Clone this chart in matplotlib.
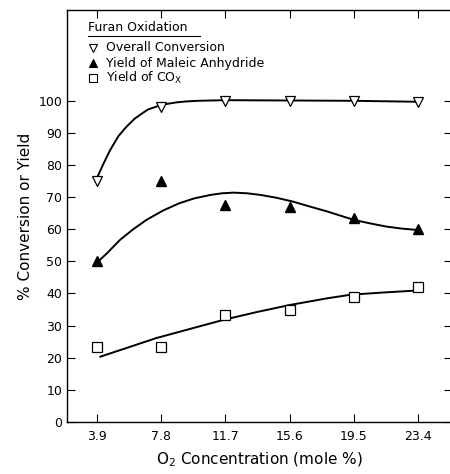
import matplotlib.pyplot as plt

# measured points
o2 = [3.9, 7.8, 11.7, 15.6, 19.5, 23.4]
overall = [75, 98, 100, 100, 100, 99.5]
maleic = [50, 75, 67.6, 66.9, 63.5, 60.1]
cox = [23.3, 23.3, 33.4, 34.9, 39, 42]

# hand drawn curves
overall_fit_x = [3.9, 4.3, 4.7, 5.2, 5.7, 6.2, 6.7, 7.0, 7.5, 8.0, 8.7, 9.3, 10.0, 11.7, 15.6, 19.5, 23.4]
overall_fit_y = [76, 80.5, 84.7, 89, 92, 94.5, 96.3, 97.3, 98.2, 98.9, 99.5, 99.8, 100, 100.2, 100.1, 100, 99.7]
maleic_fit_x = [3.9, 4.5, 5.3, 6.1, 6.9, 7.9, 8.9, 9.8, 10.8, 11.5, 12.2, 13.0, 13.8, 14.8,
                15.8, 16.8, 17.9, 18.7, 19.5, 20.5, 21.5, 22.4, 23.3]
maleic_fit_y = [49.6, 52.5, 56.7, 60.0, 62.9, 65.8, 68.1, 69.6, 70.7, 71.2, 71.4, 71.2, 70.7, 69.8,
                68.6, 67.1, 65.5, 64.2, 62.9, 61.8, 60.8, 60.2, 59.8]
cox_fit_x = [4.1, 7.5, 11.6, 13.6, 15.6, 17.9, 19.3, 21.3, 23.3]
cox_fit_y = [20.3, 26.1, 31.8, 34.2, 36.4, 38.5, 39.6, 40.3, 40.9]

plt.rcParams['font.family'] = 'DejaVu Sans'

fig = plt.figure(figsize=(4.5, 4.74), dpi=100)
ax = fig.add_axes([0.149, 0.110, 0.856, 0.869])

ax.plot(overall_fit_x, overall_fit_y, color='black', lw=1.4)
ax.plot(maleic_fit_x, maleic_fit_y, color='black', lw=1.4)
ax.plot(cox_fit_x, cox_fit_y, color='black', lw=1.4)

ax.plot(o2, overall, 'v', ms=7, mfc='white', mec='black', mew=0.9, ls='none')
ax.plot(o2, maleic, '^', ms=7, mfc='black', mec='black', ls='none')
ax.plot(o2, cox, 's', ms=6.5, mfc='white', mec='black', mew=0.9, ls='none')

ax.set_xlim(2.08, 25.47)
ax.set_ylim(0, 128.3)
ax.set_xticks(o2)
ax.set_xticklabels(['3.9', '7.8', '11.7', '15.6', '19.5', '23.4'])
ax.set_yticks(range(0, 101, 10))
ax.tick_params(direction='in', top=True, right=True, length=6, width=0.8,
               labelsize=9, colors='black')
ax.tick_params(axis='x', pad=6)
for s in ax.spines.values():
    s.set_linewidth(1.0)

ax.set_xlabel('O$_2$ Concentration (mole %)', fontsize=11, labelpad=5)
ax.set_ylabel('% Conversion or Yield', fontsize=11, labelpad=4)

# legend block
ax.text(0.055, 0.958, 'Furan Oxidation', transform=ax.transAxes, fontsize=9,
        va='center', ha='left')
ax.plot([0.055, 0.345], [0.937, 0.937], transform=ax.transAxes, color='black', lw=0.8)
labels = ['Overall Conversion', 'Yield of Maleic Anhydride', 'Yield of CO$_\\mathrm{X}$']
marks = [('v', 'white'), ('^', 'black'), ('s', 'white')]
rows = [0.908, 0.871, 0.835]
for lab, (m, fc), yy in zip(labels, marks, rows):
    ax.plot([0.068], [yy], m, ms=6, mfc=fc, mec='black', mew=0.8,
            transform=ax.transAxes)
    ax.text(0.1, yy, lab, transform=ax.transAxes, fontsize=9, va='center', ha='left')

fig.savefig('out.png', dpi=100)
